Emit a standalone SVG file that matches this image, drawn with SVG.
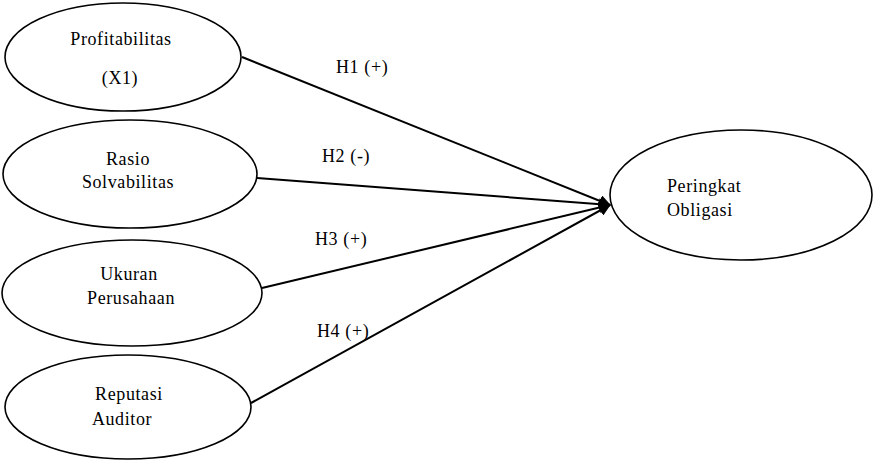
<svg xmlns="http://www.w3.org/2000/svg" width="875" height="463" viewBox="0 0 875 463">
<defs>
<style>
.n{fill:#fff;stroke:#000;stroke-width:1.6}
.t{font-family:"Liberation Serif","Times New Roman",serif;font-size:18px;fill:#000;letter-spacing:0.6px}
.c{text-anchor:middle}
.e{stroke:#000;stroke-width:2;fill:none}
</style>
<marker id="ah" markerWidth="12" markerHeight="12" viewBox="0 0 12 12" refX="11" refY="6" orient="auto" markerUnits="userSpaceOnUse">
<path d="M0,0 L12,6 L0,12 Z" fill="#000"/>
</marker>
</defs>
<g id="connectors">
<line class="e" x1="242" y1="57" x2="610" y2="205" marker-end="url(#ah)"/>
<line class="e" x1="257" y1="178" x2="610" y2="205" marker-end="url(#ah)"/>
<line class="e" x1="262" y1="288" x2="610" y2="205" marker-end="url(#ah)"/>
<line class="e" x1="251" y1="403" x2="610" y2="205" marker-end="url(#ah)"/>
<text class="t" x="336" y="73">H1 (+)</text>
<text class="t" x="322" y="162">H2 (-)</text>
<text class="t" x="315" y="245">H3 (+)</text>
<text class="t" x="317" y="337">H4 (+)</text>
</g>
<g id="profitabilitas">
<ellipse class="n" cx="123" cy="57" rx="118" ry="54"/>
<text class="t c" x="121" y="45">Profitabilitas</text>
<text class="t c" x="120" y="84">(X1)</text>
</g>
<g id="rasio">
<ellipse class="n" cx="130" cy="174" rx="127" ry="54"/>
<text class="t c" x="128" y="165">Rasio</text>
<text class="t c" x="128" y="188">Solvabilitas</text>
</g>
<g id="ukuran">
<ellipse class="n" cx="132" cy="293" rx="130" ry="53"/>
<text class="t c" x="129" y="280">Ukuran</text>
<text class="t c" x="131" y="304">Perusahaan</text>
</g>
<g id="reputasi">
<ellipse class="n" cx="128" cy="407" rx="123" ry="52"/>
<text class="t c" x="129" y="400">Reputasi</text>
<text class="t c" x="122" y="425">Auditor</text>
</g>
<g id="peringkat">
<ellipse class="n" cx="741" cy="195" rx="131" ry="65"/>
<text class="t" x="667" y="192">Peringkat</text>
<text class="t" x="667" y="216">Obligasi</text>
</g>
</svg>
